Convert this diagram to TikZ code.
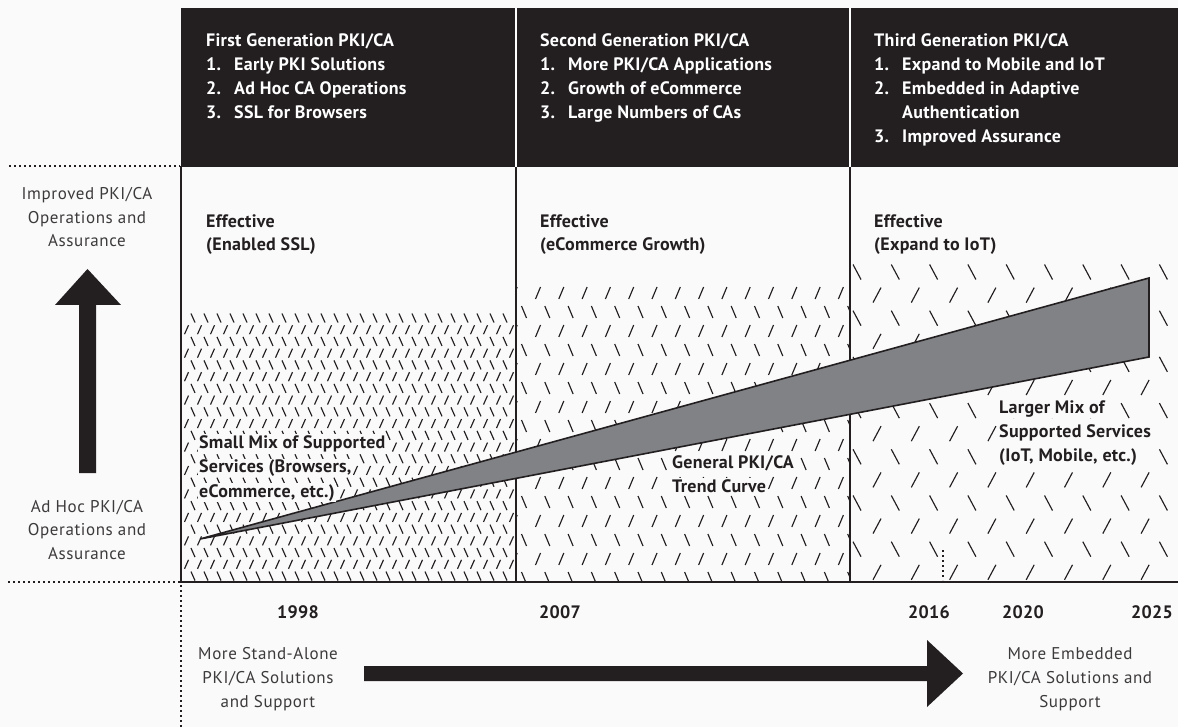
\documentclass[tikz,border=0pt]{standalone}
\usepackage{fontspec}
\setmainfont{PT Sans}
\newfontfamily\labfont{PT Sans}[LetterSpace=1.5]
\newfontfamily\sidefont{PT Sans}[LetterSpace=3.5]
\definecolor{ink}{HTML}{231F20}
\definecolor{trend}{HTML}{808285}
\definecolor{paper}{HTML}{FAFAFA}
\begin{document}
\begin{tikzpicture}[x=1pt,y=-1pt,
  hd/.style={text=white, font=\labfont\bfseries\fontsize{18}{20}\selectfont, anchor=base west, inner sep=0pt},
  lbl/.style={text=ink, font=\labfont\bfseries\fontsize{18}{20}\selectfont, anchor=base west, inner sep=0pt},
  knock/.style={lbl, fill=paper, inner sep=1pt},
  yearlbl/.style={text=ink, font=\labfont\bfseries\fontsize{18}{20}\selectfont, anchor=base, inner sep=0pt},
  side/.style={text=ink!88, font=\sidefont\fontsize{17}{19}\selectfont, anchor=base, inner sep=0pt},
  rule/.style={draw=ink, line width=2pt},
  guide/.style={draw=ink, line width=1.8pt, dash pattern=on 1.8pt off 3.2pt},
  hatchline/.style={draw=ink, line width=1.15pt},
  bigarrow/.style={fill=ink}
]
% canvas
\useasboundingbox (0,0) rectangle (1178,727);
\fill[paper] (0,0) rectangle (1178,727);

% hatching, first period (dense)
\begin{scope}
  \clip (182,305) rectangle (516,581);
  \foreach \r in {0,...,22}{
    \pgfmathsetmacro{\yy}{318+11.73*\r}
    \ifodd\r
      \foreach \c in {0,...,26} \draw[hatchline] ({184.5+13*\c},{\yy+4.5}) -- ++(4,-9);
    \else
      \foreach \c in {0,...,26} \draw[hatchline] ({191+13*\c},{\yy-4.5}) -- ++(4,9);
    \fi
  }
\end{scope}

% hatching, second period (medium)
\begin{scope}
  \clip (517,283) rectangle (850,581);
  \foreach \r in {0,...,15}{
    \pgfmathsetmacro{\yy}{293+19*\r}
    \ifodd\r
      \foreach \c in {0,...,14} \draw[hatchline] ({521.5+23.3*\c},{\yy-6}) -- ++(5,12);
    \else
      \foreach \c in {-1,...,14} \draw[hatchline] ({535.5+23.3*\c},{\yy+6}) -- ++(5,-12);
    \fi
  }
\end{scope}

% hatching, third period (sparse)
\begin{scope}
  \clip (851,258) rectangle (1178,581);
  \foreach \r in {0,...,13}{
    \pgfmathsetmacro{\yy}{272+23.1*\r}
    \ifodd\r
      \foreach \c in {-1,...,8} \draw[hatchline] ({873+38.3*\c},{\yy+7.5}) -- ++(8,-15);
    \else
      \foreach \c in {0,...,8} \draw[hatchline] ({853+38.3*\c},{\yy-7.5}) -- ++(8,15);
    \fi
  }
\end{scope}

% header band
\fill[ink] (181,8) rectangle (1178,167);
\draw[white, line width=2pt] (516,8) -- (516,167) (850,8) -- (850,167);

% period frame
\draw[rule] (181,166) -- (181,583);
\draw[rule] (516,167) -- (516,583);
\draw[rule] (850,167) -- (850,583);
\draw[rule] (180,582) -- (1178,582);

% guide lines
\draw[guide] (9,166) -- (180,166);
\draw[guide] (8,582) -- (180,582);
\draw[guide] (181,585) -- (181,727);
\draw[guide] (943,550) -- (943,580);

% trend wedge
\draw[fill=trend, draw=ink, line width=1.6pt, line join=miter] (200,539) -- (1149,278) -- (1149,357) -- cycle;

% vertical and horizontal block arrows
\fill[bigarrow] (79,473) -- (79,305) -- (55,305) -- (87.5,269) -- (121,305) -- (96,305) -- (96,473) -- cycle;
\fill[bigarrow] (364,666) -- (927,666) -- (927,640) -- (963,673.5) -- (927,707) -- (927,681) -- (364,681) -- cycle;

% header texts
\foreach \t [count=\i] in {First Generation PKI/CA, {\makebox[28pt][l]{1.}Early PKI Solutions}, {\makebox[28pt][l]{2.}Ad Hoc CA Operations}, {\makebox[28pt][l]{3.}SSL for Browsers}}
  \node[hd] (ga\i) at (206,{46.5+24*(\i-1)}) {\t};
\foreach \t [count=\i] in {Second Generation PKI/CA, {\makebox[28pt][l]{1.}More PKI/CA Applications}, {\makebox[28pt][l]{2.}Growth of eCommerce}, {\makebox[28pt][l]{3.}Large Numbers of CAs}}
  \node[hd] (gb\i) at (540,{46.5+24*(\i-1)}) {\t};
\foreach \t [count=\i] in {Third Generation PKI/CA, {\makebox[28pt][l]{1.}Expand to Mobile and IoT}, {\makebox[28pt][l]{2.}Embedded in Adaptive}, {\hspace*{28pt}Authentication}, {\makebox[28pt][l]{3.}Improved Assurance}}
  \node[hd] (gc\i) at (874,{46.5+24*(\i-1)}) {\t};

% effectiveness notes
\node[lbl] (ea1) at (206,228) {Effective};
\node[lbl] (ea2) at (206,251) {(Enabled SSL)};
\node[lbl] (eb1) at (540,228) {Effective};
\node[lbl] (eb2) at (540,251) {(eCommerce Growth)};
\node[lbl] (ec1) at (874,228) {Effective};
\node[lbl] (ec2) at (874,251) {(Expand to IoT)};

% labels inside the hatched field
\foreach \t [count=\i] in {Small Mix of Supported, {Services (Browsers,}, {eCommerce, etc.)}}
  \node[knock] (sm\i) at (198,{448+24.5*(\i-1)}) {\t};
\foreach \t [count=\i] in {General PKI/CA, Trend Curve}
  \node[knock] (tc\i) at (671,{468+24*(\i-1)}) {\t};
\foreach \t [count=\i] in {Larger Mix of, Supported Services, {(IoT, Mobile, etc.)}}
  \node[knock] (lm\i) at (998,{413+24*(\i-1)}) {\t};

% vertical axis captions
\foreach \t [count=\i] in {Improved PKI/CA, Operations and, Assurance}
  \node[side] (up\i) at (87,{200+23.5*(\i-1)}) {\t};
\foreach \t [count=\i] in {Ad Hoc PKI/CA, Operations and, Assurance}
  \node[side] (lo\i) at (87,{512+23.5*(\i-1)}) {\t};

% years
\node[yearlbl] (y1998) at (298,618) {1998};
\node[yearlbl] (y2007) at (560,618) {2007};
\node[yearlbl] (y2016) at (929,618) {2016};
\node[yearlbl] (y2020) at (1023,618) {2020};
\node[yearlbl] (y2025) at (1152,618) {2025};

% horizontal axis captions
\foreach \t [count=\i] in {More Stand-Alone, PKI/CA Solutions, and Support}
  \node[side] (sa\i) at (268,{659+24*(\i-1)}) {\t};
\foreach \t [count=\i] in {More Embedded, PKI/CA Solutions and, Support}
  \node[side] (em\i) at (1070,{659+24*(\i-1)}) {\t};
\end{tikzpicture}
\end{document}
